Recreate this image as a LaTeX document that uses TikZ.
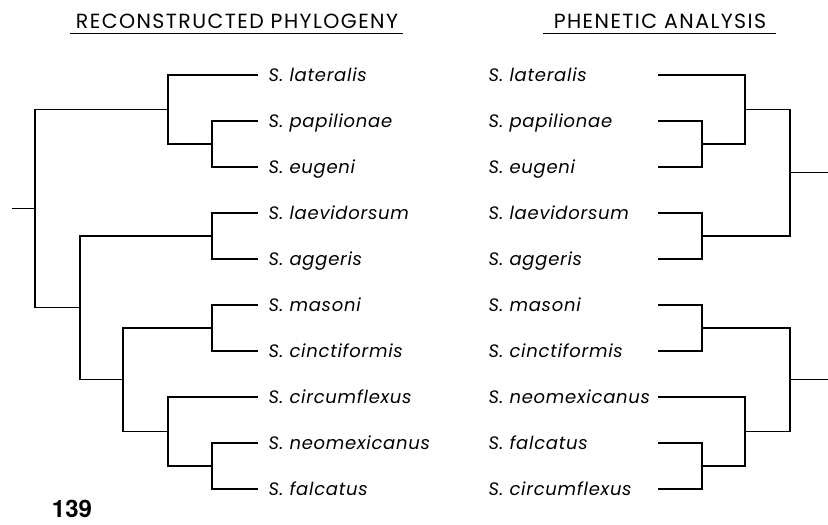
\documentclass[tikz,border=0pt]{standalone}
\usepackage{fontspec}
\usetikzlibrary{positioning}
\setmainfont{Poppins}
\newfontfamily\numfont{TeX Gyre Heros}
\tikzset{
  taxon/.style={anchor=west, inner sep=0pt, text height=12pt, text depth=0pt,
    font=\fontsize{18}{21}\selectfont\itshape\addfontfeatures{LetterSpace=4}},
  heading/.style={inner sep=0pt, font=\fontsize{20.5}{24}\selectfont\addfontfeatures{LetterSpace=7}},
}
\begin{document}
\begin{tikzpicture}[x=1pt, y=-1pt, line width=1.1pt]
  \useasboundingbox (0,0) rectangle (828,525);
  % headings
  \node[heading] (phylo) at (237,21) {RECONSTRUCTED PHYLOGENY};
  \node[heading] (phene) at (660,21) {PHENETIC ANALYSIS};
  \draw[line width=0.9pt] (70,33) -- (403,33);
  \draw[line width=0.9pt] (543,33) -- (776,33);
  % left tree: tips
  \coordinate (lat) at (258,75);
  \coordinate (pap) at (258,121);
  \coordinate (eug) at (258,167);
  \coordinate (lae) at (258,213);
  \coordinate (agg) at (258,259);
  \coordinate (mas) at (258,305);
  \coordinate (cin) at (258,351);
  \coordinate (cir) at (258,397);
  \coordinate (neo) at (258,443);
  \coordinate (fal) at (258,489);
  % left tree: branch points
  \coordinate (in) at (12,208.7);
  \coordinate (root) at (35,208.7);
  \coordinate (a) at (168,109.5);
  \coordinate (b) at (212,144);
  \coordinate (c) at (80,307.9);
  \coordinate (d) at (212,236);
  \coordinate (e) at (123,379.75);
  \coordinate (f) at (212,328);
  \coordinate (g) at (168,431.5);
  \coordinate (h) at (212,466);
  % left tree: labels
  \node[taxon, right=10pt of lat] (llat) {S. lateralis};
  \node[taxon, right=10pt of pap] (lpap) {S. papilionae};
  \node[taxon, right=10pt of eug] (leug) {S. eugeni};
  \node[taxon, right=10pt of lae] (llae) {S. laevidorsum};
  \node[taxon, right=10pt of agg] (lagg) {S. aggeris};
  \node[taxon, right=10pt of mas] (lmas) {S. masoni};
  \node[taxon, right=10pt of cin] (lcin) {S. cinctiformis};
  \node[taxon, right=10pt of cir] (lcir) {S. circumflexus};
  \node[taxon, right=10pt of neo] (lneo) {S. neomexicanus};
  \node[taxon, right=10pt of fal] (lfal) {S. falcatus};
  % left tree: branches
  \draw (in) -- (root);
  \draw (root) |- (a);
  \draw (root) |- (c);
  \draw (a) |- (lat);
  \draw (a) |- (b);
  \draw (b) |- (pap);
  \draw (b) |- (eug);
  \draw (c) |- (d);
  \draw (c) |- (e);
  \draw (d) |- (lae);
  \draw (d) |- (agg);
  \draw (e) |- (f);
  \draw (e) |- (g);
  \draw (f) |- (mas);
  \draw (f) |- (cin);
  \draw (g) |- (cir);
  \draw (g) |- (h);
  \draw (h) |- (neo);
  \draw (h) |- (fal);
  % right tree: tips
  \coordinate (rlat) at (658,75);
  \coordinate (rpap) at (658,121);
  \coordinate (reug) at (658,167);
  \coordinate (rlae) at (658,213);
  \coordinate (ragg) at (658,259);
  \coordinate (rmas) at (658,305);
  \coordinate (rcin) at (658,351);
  \coordinate (rneo) at (658,397);
  \coordinate (rfal) at (658,443);
  \coordinate (rcir) at (658,489);
  % right tree: labels
  \node[taxon] (plat) at (488,75) {S. lateralis};
  \node[taxon] (ppap) at (488,121) {S. papilionae};
  \node[taxon] (peug) at (488,167) {S. eugeni};
  \node[taxon] (plae) at (488,213) {S. laevidorsum};
  \node[taxon] (pagg) at (488,259) {S. aggeris};
  \node[taxon] (pmas) at (488,305) {S. masoni};
  \node[taxon] (pcin) at (488,351) {S. cinctiformis};
  \node[taxon] (pneo) at (488,397) {S. neomexicanus};
  \node[taxon] (pfal) at (488,443) {S. falcatus};
  \node[taxon] (pcir) at (488,489) {S. circumflexus};
  % right tree: branch points
  \coordinate (p) at (702,144);
  \coordinate (q) at (745,109.5);
  \coordinate (s) at (702,236);
  \coordinate (t) at (790,172.75);
  \coordinate (tout) at (828,172.75);
  \coordinate (u) at (702,328);
  \coordinate (v) at (702,466);
  \coordinate (w) at (745,431.5);
  \coordinate (z) at (790,379.75);
  \coordinate (zout) at (828,379.75);
  % right tree: branches
  \draw (rlat) -| (q);
  \draw (rpap) -| (p);
  \draw (reug) -| (p);
  \draw (p) -| (q);
  \draw (q) -| (t);
  \draw (rlae) -| (s);
  \draw (ragg) -| (s);
  \draw (s) -| (t);
  \draw (t) -- (tout);
  \draw (rmas) -| (u);
  \draw (rcin) -| (u);
  \draw (u) -| (z);
  \draw (rneo) -| (w);
  \draw (rfal) -| (v);
  \draw (rcir) -| (v);
  \draw (v) -| (w);
  \draw (w) -| (z);
  \draw (z) -- (zout);
  % plate number
  \node[font=\numfont\bfseries\fontsize{24}{24}\selectfont, inner sep=0pt] (plate) at (72,509) {139};
\end{tikzpicture}
\end{document}
